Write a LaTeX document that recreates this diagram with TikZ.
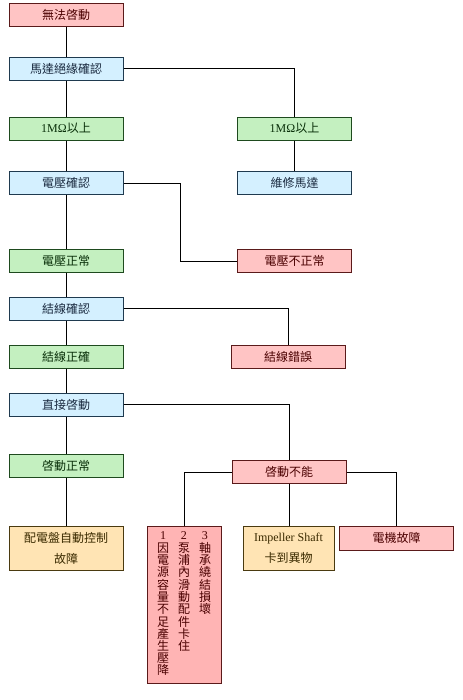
\documentclass[tikz,border=0pt]{standalone}
\usepackage{fontspec}
\setmainfont{Liberation Serif}
\newfontfamily\cjk{Noto Sans CJK TC}
\usetikzlibrary{positioning}
\definecolor{redfill}{HTML}{FFC4C4}
\definecolor{redfilldark}{HTML}{FFB4B4}
\definecolor{reddraw}{HTML}{5A1A1A}
\definecolor{redtext}{HTML}{4A0000}
\definecolor{bluefill}{HTML}{D4F0FF}
\definecolor{bluedraw}{HTML}{1F3A4F}
\definecolor{bluetext}{HTML}{1A2A40}
\definecolor{greenfill}{HTML}{C4F0C0}
\definecolor{greendraw}{HTML}{1E4A1E}
\definecolor{greentext}{HTML}{0A300A}
\definecolor{orangefill}{HTML}{FFE4B4}
\definecolor{orangedraw}{HTML}{4A3A10}
\definecolor{orangetext}{HTML}{3A2A00}

\begin{document}
\begin{tikzpicture}[x=0.75pt,y=-0.75pt]
\tikzset{
  flowbox/.style={rectangle,line width=0.75pt,minimum width=85.5pt,minimum height=17.25pt,inner sep=0pt,font=\cjk\fontsize{9}{10}\selectfont},
  checkbox/.style={flowbox,fill=bluefill,draw=bluedraw,text=bluetext},
  okbox/.style={flowbox,fill=greenfill,draw=greendraw,text=greentext},
  faultbox/.style={flowbox,fill=redfill,draw=reddraw,text=redtext},
  causebox/.style={flowbox,fill=orangefill,draw=orangedraw,text=orangetext,minimum height=33pt,align=center,font=\cjk\fontsize{9}{15.75}\selectfont},
  link/.style={draw=black,line width=0.75pt}
}
\useasboundingbox (0,0) rectangle (462,700);
% main column
\node[faultbox] (n_start) at (66,14.5) {無法啓動};
\node[checkbox] (n_insul) at (66,68.5) {馬達絕緣確認};
\node[okbox] (n_ok1) at (66,128.5) {\textrm{1MΩ}以上};
\node[checkbox] (n_volt) at (66,183) {電壓確認};
\node[okbox] (n_voltok) at (66,260.5) {電壓正常};
\node[checkbox] (n_wire) at (66,308.5) {結線確認};
\node[okbox] (n_wireok) at (66,356.5) {結線正確};
\node[checkbox] (n_direct) at (66,404.5) {直接啓動};
\node[okbox] (n_startok) at (66,465.5) {啓動正常};
\node[causebox] (n_panel) at (66,548) {配電盤自動控制\\故障};
% branches
\node[okbox] (n_ok2) at (294.5,128.5) {\textrm{1MΩ}以上};
\node[checkbox] (n_repair) at (294.5,183) {維修馬達};
\node[faultbox] (n_voltng) at (294.5,261) {電壓不正常};
\node[faultbox] (n_wireng) at (288,356.5) {結線錯誤};
\node[faultbox] (n_startng) at (289,472) {啓動不能};
\node[faultbox,fill=redfilldark,minimum width=55.5pt,minimum height=117.75pt] (n_causes) at (184,604.5)
  {\fontsize{9}{5.5}\selectfont\begin{tabular}{@{}c@{\hspace{6.75pt}}c@{\hspace{6.75pt}}c@{}}
   \textrm{1}&\textrm{2}&\textrm{3}\\ 因&泵&軸\\ 電&浦&承\\ 源&內&繞\\ 容&滑&結\\ 量&動&損\\
   不&配&壞\\ 足&件&\\ 產&卡&\\ 生&住&\\ 壓&&\\ 降&&
  \end{tabular}};
\node[causebox,minimum width=68.25pt] (n_shaft) at (288.5,548) {\textrm{Impeller Shaft}\\卡到異物};
\node[faultbox,minimum height=18pt] (n_motor) at (396.5,538) {電機故障};
\coordinate (c_vturn) at (180,183);
% connectors
\draw[link] (n_start) -- (n_insul);
\draw[link] (n_insul) -- (n_ok1);
\draw[link] (n_ok1) -- (n_volt);
\draw[link] (n_volt) -- (n_voltok);
\draw[link] (n_voltok) -- (n_wire);
\draw[link] (n_wire) -- (n_wireok);
\draw[link] (n_wireok) -- (n_direct);
\draw[link] (n_direct) -- (n_startok);
\draw[link] (n_startok) -- (n_panel);
\draw[link] (n_insul.east) -| (n_ok2.north);
\draw[link] (n_ok2) -- (n_repair);
\draw[link] (n_volt.east) -| (c_vturn |- n_voltng.west) -- (n_voltng.west);
\draw[link] (n_wire.east) -| (n_wireng.north);
\draw[link] (n_direct.east) -| (n_startng.north);
\draw[link] (n_startng.west) -| (n_causes.north);
\draw[link] (n_startng.south) -- (n_startng.south |- n_shaft.north);
\draw[link] (n_startng.east) -| (n_motor.north);
\end{tikzpicture}
\end{document}
